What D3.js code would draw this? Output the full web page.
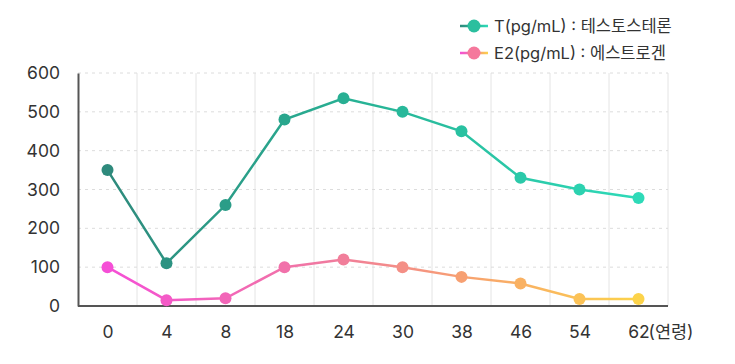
<!DOCTYPE html>
<html><head><meta charset="utf-8">
<script src="https://cdn.jsdelivr.net/npm/d3@7"></script>
<style>
body{margin:0;background:#fff;}
text{font-family:Inter,"Noto Sans CJK KR",sans-serif;fill:#333;}
</style></head>
<body><svg id="c" width="735" height="364"></svg>
<script>
const categories = ["0","4","8","18","24","30","38","46","54","62"];
const tValues = [350,110,260,480,535,500,450,330,300,278];
const e2Values = [100,15,20,100,120,100,75,58,18,18];
const yTicks = [0,100,200,300,400,500,600];
const seriesNames = ["T(pg/mL) : 테스토스테론","E2(pg/mL) : 에스트로겐"];
const xUnit = "(연령)";

const svg = d3.select("#c");
const pL=78, pR=668, pT=73, pB=306;
const x = d3.scalePoint().domain(categories).range([pL,pR]).padding(0.5);
const y = d3.scaleLinear().domain([0,600]).range([pB,pT]);
const step = x.step();

const tStops=[[0,"#2e8a7c"],[0.5,"#27b496"],[1,"#2edab8"]];
const eStops=[[0,"#f54fd6"],[0.42,"#f07a9e"],[0.7,"#f8a56c"],[1,"#fcd34a"]];
function colorAt(stops,t){
  for(let i=1;i<stops.length;i++){
    if(t<=stops[i][0]){const a=stops[i-1],b=stops[i];return d3.interpolateRgb(a[1],b[1])((t-a[0])/(b[0]-a[0]));}
  }
  return stops[stops.length-1][1];
}
const defs=svg.append("defs");
function grad(id,stops,xa1,xa2){
  const g=defs.append("linearGradient").attr("id",id).attr("gradientUnits","userSpaceOnUse")
    .attr("x1",xa1).attr("x2",xa2).attr("y1",0).attr("y2",0);
  stops.forEach(s=>g.append("stop").attr("offset",s[0]).attr("stop-color",s[1]));
}
const x0=x(categories[0]), x1=x(categories[categories.length-1]);
grad("gT",tStops,x0,x1);
grad("gE",eStops,x0,x1);
grad("gTl",tStops,460,488);
grad("gEl",eStops,460,488);

// vertical grid
const vb=d3.range(1,categories.length+1).map(i=>pL+i*step);
svg.append("g").selectAll("line").data(vb).join("line")
  .attr("x1",d=>d).attr("x2",d=>d).attr("y1",pT).attr("y2",pB)
  .attr("stroke","#e4e4e4").attr("stroke-width",1);
// horizontal grid
svg.append("g").selectAll("line").data(yTicks.filter(d=>d>0)).join("line")
  .attr("x1",pL).attr("x2",pR).attr("y1",d=>y(d)).attr("y2",d=>y(d))
  .attr("stroke","#dcdcdc").attr("stroke-width",1).attr("stroke-dasharray","3,4");

const FF='Inter,"Noto Sans CJK KR",sans-serif';
// axes
const ya=svg.append("g").attr("transform",`translate(${pL},0)`)
  .call(d3.axisLeft(y).tickValues(yTicks).tickSize(0).tickPadding(18));
ya.select(".domain").attr("stroke","#555").attr("stroke-width",2);
ya.selectAll("text").attr("font-size",17.5).style("fill","#333").attr("font-family",FF);
const xa=svg.append("g").attr("transform",`translate(0,${pB})`)
  .call(d3.axisBottom(x).tickSize(0).tickPadding(20));
xa.select(".domain").attr("stroke","#555").attr("stroke-width",2).attr("d",`M${pL},0H${pR}`);
xa.selectAll("text").attr("font-size",17.5).style("fill","#333").attr("font-family",FF);
svg.append("text").attr("x",x1+10).attr("y",pB+20).attr("dy","0.71em")
  .attr("font-size",17.5).attr("font-family",FF).text(xUnit);

const line=d3.line().x((d,i)=>x(categories[i])).y(d=>y(d));
function series(vals,gid,stops){
  svg.append("path").datum(vals).attr("d",line).attr("fill","none")
    .attr("stroke",`url(#${gid})`).attr("stroke-width",2.5);
  svg.append("g").selectAll("circle").data(vals).join("circle")
    .attr("cx",(d,i)=>x(categories[i])).attr("cy",d=>y(d)).attr("r",6)
    .attr("fill",(d,i)=>colorAt(stops,(x(categories[i])-x0)/(x1-x0)));
}
series(tValues,"gT",tStops);
series(e2Values,"gE",eStops);

// legend
const lg=[{n:seriesNames[0],g:"gTl",c:"#2bbf9e",y:26},{n:seriesNames[1],g:"gEl",c:"#f5789c",y:53}];
lg.forEach(d=>{
  svg.append("line").attr("x1",460).attr("x2",488).attr("y1",d.y).attr("y2",d.y)
    .attr("stroke",`url(#${d.g})`).attr("stroke-width",2.5);
  svg.append("circle").attr("cx",474).attr("cy",d.y).attr("r",6.5).attr("fill",d.c);
  svg.append("text").attr("x",494).attr("y",d.y).attr("dy","0.35em").attr("font-size",16.5).text(d.n);
});
</script></body></html>
